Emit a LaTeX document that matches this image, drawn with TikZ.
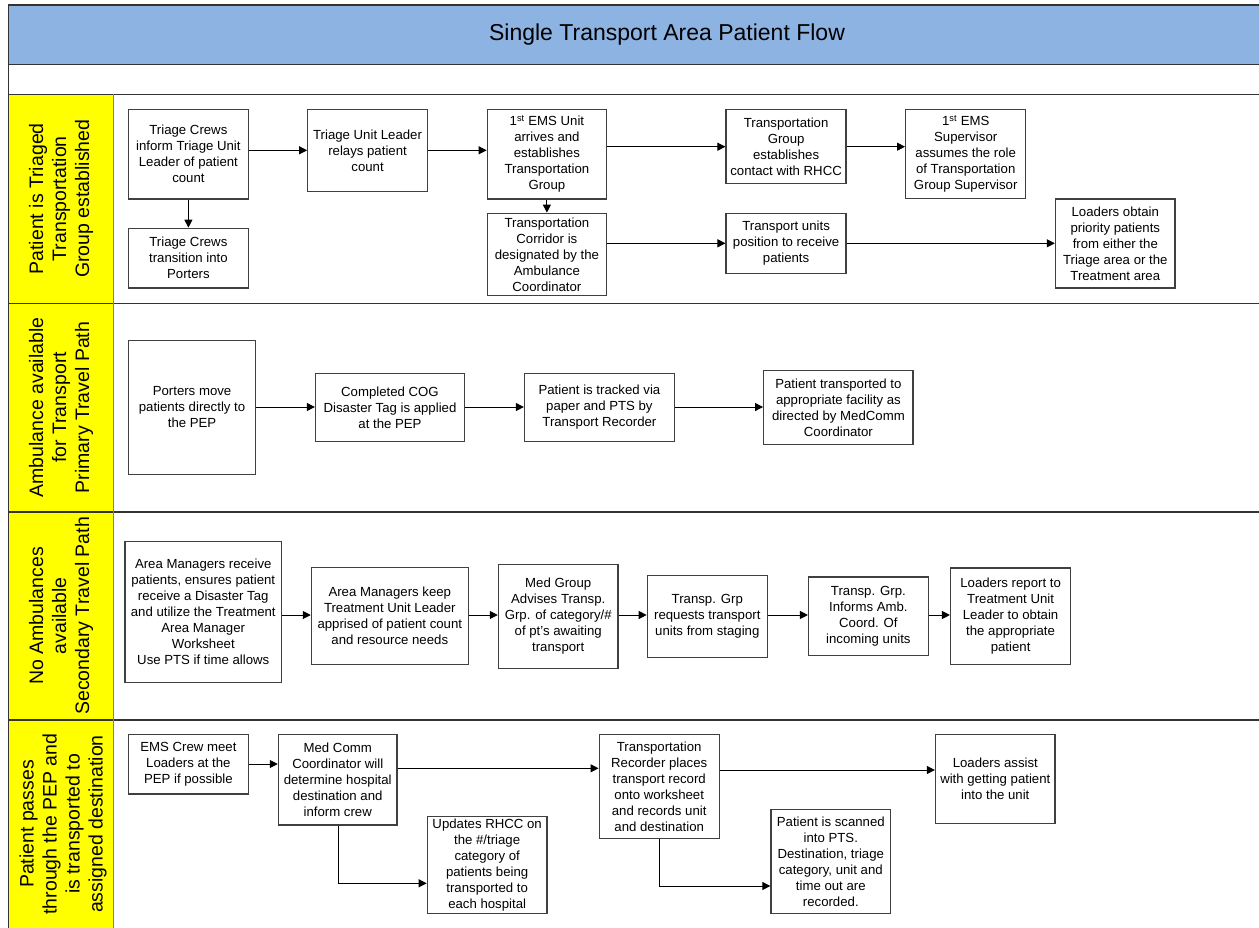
\documentclass[tikz,border=0pt]{standalone}
\usepackage{fontspec}
\setmainfont{Liberation Sans}
\usetikzlibrary{arrows.meta}
\definecolor{hdrblue}{HTML}{8DB3E2}
\definecolor{laneyellow}{HTML}{FFFF00}
\definecolor{framegray}{HTML}{333333}
\tikzset{
 box/.style={draw=black!75, line width=1.3pt, fill=white, align=center, inner sep=1pt, font=\fontsize{13.2}{16}\selectfont},
 arr/.style={-{Triangle[length=8pt,width=8pt]}, line width=1pt, black},
 lanelabel/.style={rotate=90, align=center, font=\fontsize{19.5}{23}\selectfont},
 frameline/.style={draw=framegray, line width=1.6pt},
 divline/.style={draw=gray, line width=1.3pt},
}
\newcommand\bx[6]{\node[box, minimum width={#4pt-#2pt}, minimum height={#5pt-#3pt}] (#1) at ({(#2+#4)/2},{(#3+#5)/2}) {#6};}
\begin{document}
\begin{tikzpicture}[x=1pt,y=-1pt]
\useasboundingbox (0,0) rectangle (1259,927);
\clip (0,0) rectangle (1259,927);
% frame
\fill[white] (0,0) rectangle (1259,927);
\fill[hdrblue] (8.3,5) rectangle (1270,64.3);
\fill[laneyellow] (8.3,94.3) rectangle (113.7,940);
\draw[frameline] (1270,5) -- (8.3,5) -- (8.3,940);
\draw[frameline] (8.3,64.3) -- (1270,64.3);
\draw[frameline] (8.3,94.3) -- (1270,94.3);
\draw[frameline] (8.3,303.3) -- (1270,303.3);
\draw[frameline] (8.3,511.7) -- (1270,511.7);
\draw[frameline] (8.3,720) -- (1270,720);
\draw[divline] (113.7,94.3) -- (113.7,940);
\node[font=\fontsize{23}{27}\selectfont] (T) at (667,34.5) {Single Transport Area Patient Flow};
% lane labels
\node[lanelabel] (L1) at (61,198.8) {Patient is Triaged\\Transportation\\Group established};
\node[lanelabel] (L2) at (61,407.5) {Ambulance available\\for Transport\\Primary Travel Path};
\node[lanelabel] (L3) at (61,615.8) {No Ambulances\\available\\Secondary Travel Path};
\node[lanelabel] (L4) at (63,824) {Patient passes\\through the PEP and\\is transported to\\assigned destination};
% lane 1
\bx{B1}{128.6}{109.3}{248.2}{199}{Triage Crews\\inform Triage Unit\\Leader of patient\\count}
\bx{B1b}{128.6}{228.3}{248.2}{288}{Triage Crews\\transition into\\Porters}
\bx{B2}{307.8}{109.3}{427.3}{191.3}{Triage Unit Leader\\relays patient\\count}
\bx{B3}{487.3}{109.3}{606.5}{199}{1\textsuperscript{st} EMS Unit\\arrives and\\establishes\\Transportation\\Group}
\bx{B3b}{487.3}{213.3}{606.5}{295.3}{Transportation\\Corridor is\\designated by the\\Ambulance\\Coordinator}
\bx{B4}{726.1}{109.3}{846.1}{183.7}{Transportation\\Group\\establishes\\contact with RHCC}
\bx{B5}{905.7}{109.3}{1025.7}{198.7}{1\textsuperscript{st} EMS\\Supervisor\\assumes the role\\of Transportation\\Group Supervisor}
\bx{B6}{726.1}{213.7}{846.1}{273.3}{Transport units\\position to receive\\patients}
\bx{B7}{1055.5}{199}{1175.1}{288}{Loaders obtain\\priority patients\\from either the\\Triage area or the\\Treatment area}
\draw[arr] (B1.east |- 0,150.3) -- (B2.west |- 0,150.3);
\draw[arr] (B2.east |- 0,150.3) -- (B3.west |- 0,150.3);
\draw[arr] (B3.east |- 0,146.7) -- (B4.west |- 0,146.7);
\draw[arr] (B4.east |- 0,146.7) -- (B5.west |- 0,146.7);
\draw[arr] (B1.south) -- (B1b.north);
\draw[arr] (B3.south) -- (B3b.north);
\draw[arr] (B3b.east |- 0,243.3) -- (B6.west |- 0,243.3);
\draw[arr] (B6.east |- 0,243.3) -- (B7.west |- 0,243.3);
% lane 2
\bx{C1}{128.6}{340.7}{255.5}{474.3}{Porters move\\patients directly to\\the PEP}
\bx{C2}{315.5}{373.3}{464.5}{441.7}{Completed COG\\Disaster Tag is applied\\at the PEP}
\bx{C3}{524.5}{373.3}{674.3}{441.7}{Patient is tracked via\\paper and PTS by\\Transport Recorder}
\bx{C4}{763.7}{370.3}{913.1}{444.7}{Patient transported to\\appropriate facility as\\directed by MedComm\\Coordinator}
\draw[arr] (C1.east |- 0,407) -- (C2.west |- 0,407);
\draw[arr] (C2.east |- 0,407) -- (C3.west |- 0,407);
\draw[arr] (C3.east |- 0,407) -- (C4.west |- 0,407);
% lane 3
\bx{D1}{124.9}{541.7}{281.6}{682.3}{Area Managers receive\\patients, ensures patient\\receive a Disaster Tag\\and utilize the Treatment\\Area Manager\\Worksheet\\Use PTS if time allows}
\bx{D2}{311.4}{567.7}{468.2}{664.7}{Area Managers keep\\Treatment Unit Leader\\apprised of patient count\\and resource needs}
\bx{D3}{498.4}{564.3}{618}{668.3}{Med Group\\Advises Transp.\\Grp. of category/\#\\of pt's awaiting\\transport}
\bx{D4}{647.3}{575.3}{767.3}{657.3}{Transp. Grp\\requests transport\\units from staging}
\bx{D5}{808.6}{577}{928.2}{655.3}{Transp. Grp.\\Informs Amb.\\Coord. Of\\incoming units}
\bx{D6}{950.6}{568}{1070.6}{664.3}{Loaders report to\\Treatment Unit\\Leader to obtain\\the appropriate\\patient}
\draw[arr] (D1.east |- 0,615) -- (D2.west |- 0,615);
\draw[arr] (D2.east |- 0,615) -- (D3.west |- 0,615);
\draw[arr] (D3.east |- 0,615) -- (D4.west |- 0,615);
\draw[arr] (D4.east |- 0,615) -- (D5.west |- 0,615);
\draw[arr] (D5.east |- 0,615) -- (D6.west |- 0,615);
% lane 4
\bx{E1}{128.6}{734.3}{248.2}{794}{EMS Crew meet\\Loaders at the\\PEP if possible}
\bx{E2}{278.4}{734.3}{397.1}{825}{Med Comm\\Coordinator will\\determine hospital\\destination and\\inform crew}
\bx{E3}{427.3}{816.7}{547}{913.3}{Updates RHCC on\\the \#/triage\\category of\\patients being\\transported to\\each hospital}
\bx{E4}{599.2}{734.3}{719.2}{838.3}{Transportation\\Recorder places\\transport record\\onto worksheet\\and records unit\\and destination}
\bx{E5}{771}{809.3}{890.6}{913.7}{Patient is scanned\\into PTS.\\Destination, triage\\category, unit and\\time out are\\recorded.}
\bx{E6}{935.5}{734.3}{1055.1}{823.3}{Loaders assist\\with getting patient\\into the unit}
\draw[arr] (E1.east |- 0,764) -- (E2.west |- 0,764);
\draw[arr] (E2.east |- 0,768.3) -- (E4.west |- 0,768.3);
\draw[arr] (E4.east |- 0,770) -- (E6.west |- 0,770);
\draw[arr] (E2.south -| 338,0) |- (E3.west |- 0,883.3);
\draw[arr] (E4.south -| 659.6,0) |- (E5.west |- 0,886);
\end{tikzpicture}
\end{document}
